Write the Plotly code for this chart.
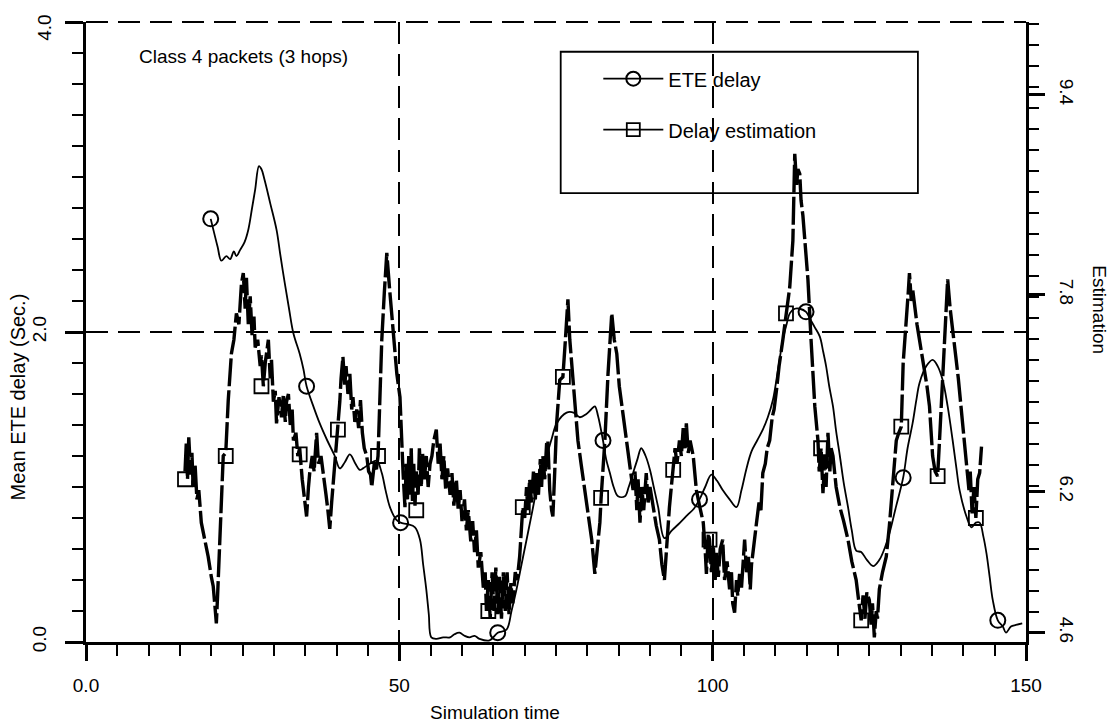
import plotly.graph_objects as go

# ---------------- data ----------------
ete_x = [19.9, 21.0, 21.6, 22.4, 23.0, 23.6, 24.0, 24.6, 25.3, 25.9, 26.5, 27.0, 27.6, 28.0, 28.5,
         29.4, 30.4, 31.0, 31.7, 32.4, 33.1, 34.1, 34.7, 35.2, 36.2, 37.3, 38.5, 39.7, 40.5, 41.3,
         42.1, 43.0, 43.7, 44.2, 45.3, 46.4, 47.2, 47.8, 48.5, 49.5, 50.2, 51.3, 52.5, 53.3, 53.8,
         54.3, 54.7, 55.1, 55.9, 57.0, 58.1, 58.8, 59.6, 60.4, 61.2, 62.0, 62.8, 64.4, 65.7, 67.1,
         67.9, 68.7, 69.5, 70.3, 71.1, 71.9, 72.7, 73.5, 74.3, 75.1, 76.7, 77.8, 78.8, 79.8, 80.6,
         81.2, 81.7, 82.5, 83.0, 83.6, 84.2, 84.9, 86.0, 86.6, 87.3, 88.0, 88.6, 89.3, 90.0, 90.6,
         91.3, 92.3, 93.5, 94.8, 96.0, 97.0, 97.9, 98.8, 99.8, 100.7, 101.6, 102.7, 103.8, 104.6, 105.4,
         106.2, 107.1, 108.0, 108.8, 109.6, 110.4, 111.2, 111.8, 112.3, 113.1, 113.9, 114.9, 115.6, 116.3, 117.1,
         117.6, 118.1, 118.6, 119.2, 119.7, 120.3, 120.9, 121.6, 122.2, 122.9, 123.7, 124.6, 125.6, 126.6, 127.4,
         128.2, 129.3, 130.4, 131.1, 131.9, 132.5, 133.0, 134.1, 135.1, 135.9, 136.7, 137.5, 138.3, 138.9, 139.4,
         140.5, 141.3, 142.0, 142.6, 143.2, 143.7, 144.2, 144.7, 145.5, 146.3, 146.8, 147.6, 148.4, 149.4]
ete_y = [2.73, 2.55, 2.46, 2.49, 2.47, 2.52, 2.49, 2.53, 2.58, 2.66, 2.80, 2.92, 3.07, 3.05, 2.98,
         2.83, 2.66, 2.50, 2.32, 2.15, 1.99, 1.86, 1.76, 1.65, 1.53, 1.41, 1.30, 1.20, 1.12, 1.16,
         1.21, 1.15, 1.11, 1.12, 1.15, 1.17, 1.09, 0.98, 0.87, 0.79, 0.77, 0.76, 0.74, 0.66, 0.50,
         0.34, 0.18, 0.03, 0.02, 0.03, 0.03, 0.05, 0.06, 0.04, 0.03, 0.04, 0.02, 0.01, 0.06, 0.08,
         0.20, 0.34, 0.50, 0.66, 0.82, 0.98, 1.10, 1.20, 1.31, 1.41, 1.48, 1.48, 1.45, 1.47, 1.50,
         1.52, 1.46, 1.30, 1.18, 1.09, 1.00, 0.94, 0.94, 1.00, 1.09, 1.18, 1.25, 1.20, 1.11, 1.00,
         0.87, 0.67, 0.72, 0.77, 0.82, 0.86, 0.92, 1.00, 1.08, 1.04, 0.98, 0.92, 0.87, 0.98, 1.12,
         1.23, 1.30, 1.37, 1.45, 1.56, 1.75, 1.95, 2.05, 2.12, 2.15, 2.15, 2.13, 2.08, 2.03, 1.97,
         1.88, 1.78, 1.65, 1.52, 1.36, 1.20, 1.03, 0.87, 0.72, 0.59, 0.58, 0.53, 0.49, 0.53, 0.60,
         0.70, 0.88, 1.06, 1.25, 1.41, 1.56, 1.67, 1.78, 1.82, 1.78, 1.69, 1.52, 1.30, 1.12, 0.98,
         0.81, 0.74, 0.77, 0.77, 0.68, 0.57, 0.42, 0.27, 0.14, 0.10, 0.06, 0.10, 0.11, 0.12]
ete_mark_x = [19.9, 35.2, 50.2, 65.7, 82.5, 97.9, 114.9, 130.4, 145.5]
ete_mark_y = [2.73, 1.65, 0.77, 0.06, 1.30, 0.92, 2.13, 1.06, 0.14]

est_x = [15.8, 16.0, 16.2, 16.4, 16.7, 16.9, 17.1, 17.4, 17.7, 18.0, 18.4, 19.0, 19.5, 20.0, 20.3,
         20.6, 20.8, 21.0, 21.4, 21.9, 22.3, 22.7, 23.2, 23.6, 24.0, 24.4, 24.8, 25.1, 25.4, 25.6,
         25.9, 26.2, 26.5, 26.8, 27.0, 27.4, 27.8, 28.0, 28.3, 28.6, 29.1, 29.4, 29.6, 29.9, 30.2,
         30.4, 30.8, 31.2, 31.5, 31.8, 32.0, 32.3, 32.6, 32.9, 33.1, 33.5, 33.8, 34.1, 34.5, 34.8,
         35.2, 35.5, 35.7, 36.1, 36.4, 36.8, 37.1, 37.5, 37.9, 38.3, 38.6, 38.9, 39.2, 39.5, 39.8,
         40.2, 40.5, 40.7, 41.0, 41.3, 41.5, 41.8, 42.1, 42.4, 42.6, 42.9, 43.2, 43.5, 43.8, 44.1,
         44.4, 44.8, 45.1, 45.4, 45.6, 46.0, 46.3, 46.6, 46.9, 47.2, 47.6, 48.0, 48.4, 48.8, 49.2,
         49.6, 50.1, 50.4, 50.6, 50.9, 51.1, 51.3, 51.5, 51.7, 51.9, 52.1, 52.3, 52.5, 52.7, 53.0,
         53.2, 53.5, 53.7, 54.0, 54.3, 54.6, 54.9, 55.2, 55.5, 55.9, 56.2, 56.5, 56.8, 57.1, 57.4,
         57.7, 58.1, 58.4, 58.7, 59.1, 59.4, 59.7, 60.0, 60.4, 60.7, 61.0, 61.4, 61.7, 62.0, 62.3,
         62.6, 63.0, 63.4, 63.7, 63.9, 64.2, 64.5, 64.8, 65.1, 65.4, 65.7, 66.0, 66.3, 66.6, 66.9,
         67.2, 67.5, 67.8, 68.1, 68.5, 68.8, 69.2, 69.5, 69.7, 70.0, 70.3, 70.5, 70.8, 71.1, 71.4,
         71.7, 71.9, 72.2, 72.5, 72.7, 72.9, 73.2, 73.5, 73.7, 74.0, 74.3, 74.5, 74.8, 75.1, 75.6,
         76.1, 76.5, 76.9, 77.2, 77.5, 77.8, 78.1, 78.5, 79.0, 79.6, 80.2, 80.7, 81.2, 81.6, 82.0,
         82.2, 82.8, 83.3, 83.9, 84.3, 84.7, 85.1, 85.4, 85.8, 86.2, 86.7, 87.3, 87.6, 87.9, 88.1,
         88.4, 88.7, 89.0, 89.4, 89.7, 90.0, 90.5, 91.0, 91.5, 91.9, 92.3, 92.7, 93.1, 93.4, 93.7,
         94.0, 94.3, 94.7, 95.0, 95.3, 95.6, 95.8, 96.1, 96.4, 96.9, 97.4, 97.9, 98.5, 98.8, 99.0,
         99.3, 99.5, 99.8, 100.1, 100.4, 100.6, 100.9, 101.2, 101.6, 101.9, 102.3, 102.7, 103.0, 103.2, 103.5,
         103.8, 104.0, 104.3, 104.6, 104.9, 105.1, 105.4, 105.7, 106.0, 106.2, 106.5, 106.8, 107.0, 107.4, 107.7,
         108.0, 108.4, 108.7, 109.1, 109.5, 109.8, 110.2, 110.6, 111.2, 111.7, 112.3, 112.8, 113.1, 113.4, 113.6,
         113.9, 114.1, 114.4, 114.7, 115.2, 115.7, 116.3, 116.8, 117.0, 117.3, 117.6, 117.9, 118.1, 118.4, 118.7,
         118.9, 119.2, 119.7, 120.3, 120.9, 121.6, 122.2, 122.9, 123.2, 123.5, 123.7, 124.0, 124.3, 124.6, 125.0,
         125.3, 125.5, 125.8, 126.1, 126.3, 126.6, 127.1, 127.7, 128.2, 128.7, 129.0, 129.3, 129.7, 130.1, 130.4,
         130.7, 130.9, 131.2, 131.4, 131.7, 131.9, 132.2, 132.6, 133.0, 133.4, 133.8, 134.2, 134.6, 135.1, 135.5,
         135.9, 136.2, 136.7, 137.0, 137.3, 137.5, 137.9, 138.3, 138.8, 139.2, 139.6, 140.0, 140.4, 140.9, 141.1,
         141.4, 141.7, 142.0, 142.3, 142.6, 142.9]
est_y = [1.10, 1.28, 1.05, 1.32, 1.08, 1.22, 1.00, 1.15, 0.92, 0.98, 0.77, 0.66, 0.55, 0.42, 0.36,
         0.22, 0.12, 0.30, 0.66, 1.20, 1.22, 1.56, 1.86, 1.95, 2.12, 2.05, 2.31, 2.38, 2.15, 2.35,
         2.05, 2.23, 1.98, 2.10, 1.90, 1.95, 1.78, 1.85, 1.65, 1.80, 1.95, 1.70, 1.82, 1.55, 1.62,
         1.41, 1.58, 1.45, 1.60, 1.42, 1.55, 1.60, 1.40, 1.50, 1.30, 1.35, 1.20, 1.25, 1.05, 0.95,
         0.81, 1.00, 1.09, 1.20, 1.10, 1.35, 1.15, 1.20, 1.05, 0.95, 0.85, 0.73, 0.90, 1.05, 1.20,
         1.37, 1.55, 1.70, 1.84, 1.65, 1.78, 1.60, 1.73, 1.50, 1.58, 1.42, 1.50, 1.38, 1.56, 1.35,
         1.25, 1.20, 1.10, 1.08, 1.00, 1.15, 1.10, 1.20, 1.55, 1.95, 2.25, 2.51, 2.30, 2.12, 1.90,
         1.73, 1.58, 1.25, 1.09, 0.87, 1.15, 0.92, 1.20, 0.95, 1.25, 0.90, 1.15, 0.88, 1.10, 0.95,
         1.25, 1.00, 1.22, 1.05, 1.20, 1.00, 1.15, 1.20, 1.30, 1.37, 1.15, 1.28, 1.05, 1.20, 0.98,
         1.12, 0.95, 1.09, 0.88, 1.05, 0.85, 0.98, 0.78, 0.92, 0.72, 0.85, 0.65, 0.78, 0.58, 0.72,
         0.48, 0.58, 0.35, 0.45, 0.20, 0.40, 0.15, 0.45, 0.20, 0.48, 0.18, 0.42, 0.15, 0.45, 0.20,
         0.45, 0.18, 0.38, 0.25, 0.45, 0.40, 0.55, 0.78, 0.87, 0.80, 1.00, 0.85, 1.05, 0.90, 1.10,
         0.92, 1.09, 0.95, 1.18, 1.00, 1.20, 1.05, 1.28, 1.30, 0.98, 0.85, 0.81, 1.10, 1.41, 1.69,
         1.71, 1.95, 2.21, 1.95, 1.80, 1.60, 1.45, 1.30, 1.15, 0.98, 0.80, 0.66, 0.44, 0.60, 0.77,
         0.93, 1.30, 1.73, 2.12, 1.95, 1.86, 1.65, 1.56, 1.40, 1.30, 1.15, 0.98, 1.10, 0.85, 1.05,
         0.77, 1.00, 0.85, 1.09, 0.90, 1.00, 0.87, 0.75, 0.66, 0.50, 0.40, 0.65, 0.87, 1.00, 1.11,
         1.25, 1.15, 1.30, 1.20, 1.38, 1.25, 1.41, 1.22, 1.30, 1.20, 0.98, 0.88, 0.77, 0.60, 0.44,
         0.70, 0.66, 0.45, 0.62, 0.40, 0.58, 0.42, 0.60, 0.66, 0.40, 0.52, 0.34, 0.45, 0.25, 0.19,
         0.40, 0.30, 0.44, 0.35, 0.60, 0.66, 0.45, 0.55, 0.34, 0.50, 0.60, 0.72, 0.77, 0.90, 0.85,
         1.09, 1.15, 1.25, 1.30, 1.45, 1.50, 1.63, 1.78, 1.95, 2.12, 2.29, 2.59, 3.15, 2.95, 3.05,
         3.02, 2.85, 2.75, 2.59, 2.34, 1.95, 1.52, 1.30, 1.10, 1.25, 0.96, 1.20, 1.00, 1.35, 1.10,
         1.25, 1.20, 1.00, 0.87, 0.78, 0.66, 0.52, 0.40, 0.30, 0.20, 0.14, 0.30, 0.15, 0.32, 0.27,
         0.10, 0.25, 0.03, 0.20, 0.15, 0.34, 0.45, 0.55, 0.75, 0.98, 1.15, 1.30, 1.35, 1.39, 1.80,
         1.95, 2.10, 2.25, 2.38, 2.20, 2.28, 2.16, 2.05, 1.95, 1.85, 1.78, 1.65, 1.52, 1.20, 1.10,
         1.07, 1.30, 1.73, 1.95, 2.16, 2.34, 2.15, 2.03, 1.84, 1.70, 1.52, 1.35, 1.20, 0.98, 1.10,
         0.83, 1.00, 0.80, 1.05, 1.09, 1.26]
est_mark_x = [15.8, 22.3, 28.0, 34.1, 40.2, 46.6, 52.7, 64.2, 69.7, 76.1, 82.2, 93.7, 99.5,
              111.7, 117.3, 123.7, 130.1, 135.9, 142.0]
est_mark_y = [1.05, 1.20, 1.65, 1.21, 1.37, 1.20, 0.85, 0.20, 0.87, 1.71, 0.93, 1.11, 0.66,
              2.12, 1.25, 0.14, 1.39, 1.07, 0.80]

x_tick_vals = [0, 50, 100, 150]
x_tick_text = ["0.0", "50", "100", "150"]
y_tick_vals = [0, 2, 4]
y_tick_text = ["0.0", "2.0", "4.0"]
right_tick_pos = [0.06, 0.97, 2.24, 3.53]
right_tick_text = ["4.6", "6.2", "7.8", "9.4"]

series_names = ["ETE delay", "Delay estimation"]
chart_note = "Class 4 packets (3 hops)"

# ---------------- figure ----------------
FONT = "Liberation Sans, Arial, Helvetica, sans-serif"
BLACK = "#000000"
DASH = "22px,10px"

fig = go.Figure()

fig.add_trace(go.Scatter(x=est_x, y=est_y, mode="lines", showlegend=False,
                         line=dict(color=BLACK, width=3.4, dash="28px,4px")))
fig.add_trace(go.Scatter(x=ete_x, y=ete_y, mode="lines", showlegend=False,
                         line=dict(color=BLACK, width=1.8), line_shape="spline"))
fig.add_trace(go.Scatter(x=ete_mark_x, y=ete_mark_y, mode="markers", showlegend=False,
                         marker=dict(symbol="circle-open", size=15, color=BLACK,
                                     line=dict(width=2, color=BLACK))))
fig.add_trace(go.Scatter(x=est_mark_x, y=est_mark_y, mode="markers", showlegend=False,
                         marker=dict(symbol="square-open", size=14, color=BLACK,
                                     line=dict(width=1.8, color=BLACK))))

# legend entries
fig.add_trace(go.Scatter(x=[None], y=[None], mode="lines+markers", name=series_names[0],
                         legendgroup="a",
                         line=dict(color=BLACK, width=1.8),
                         marker=dict(symbol="circle-open", size=14, color=BLACK,
                                     line=dict(width=2, color=BLACK))))
fig.add_trace(go.Scatter(x=[None], y=[None], mode="lines+markers", name=series_names[1],
                         legendgroup="b",
                         line=dict(color=BLACK, width=1.8),
                         marker=dict(symbol="square-open", size=13, color=BLACK,
                                     line=dict(width=1.8, color=BLACK))))

# left tick labels: the top one is written as an annotation so it is not clipped
left_tick_labels = [t if v < 4 else "" for v, t in zip(y_tick_vals, y_tick_text)]

# the page body adds an 8px offset, so the figure is 8px smaller and margins shifted
fig.update_layout(
    width=1108, height=717,
    margin=dict(l=78, r=90, t=14, b=83, autoexpand=False),
    paper_bgcolor="white", plot_bgcolor="white",
    font=dict(family=FONT, size=19, color=BLACK),
    showlegend=True,
    legend=dict(x=0.545, y=0.94, xanchor="left", yanchor="top",
                bgcolor="rgba(0,0,0,0)", borderwidth=0,
                font=dict(size=20, family=FONT), tracegroupgap=22,
                traceorder="grouped", itemwidth=60),
    xaxis=dict(range=[0, 150], showline=True, linecolor=BLACK, linewidth=2.5,
               tickmode="array", tickvals=x_tick_vals, ticktext=x_tick_text,
               ticks="outside", ticklen=16, tickwidth=2.5, tickcolor=BLACK,
               ticklabelstandoff=8,
               minor=dict(dtick=5, ticks="outside", ticklen=11, tickwidth=2, tickcolor=BLACK,
                          showgrid=False),
               showgrid=True, gridcolor=BLACK, gridwidth=2, griddash=DASH,
               zeroline=False, tickfont=dict(size=19)),
    yaxis=dict(range=[0, 4], showline=True, linecolor=BLACK, linewidth=2.5,
               tickmode="array", tickvals=y_tick_vals, ticktext=left_tick_labels,
               ticks="outside", ticklen=18, tickwidth=2.5, tickcolor=BLACK,
               tickangle=-90, ticklabelstandoff=12,
               minor=dict(dtick=0.2, ticks="outside", ticklen=11, tickwidth=2, tickcolor=BLACK,
                          showgrid=False),
               showgrid=True, gridcolor=BLACK, gridwidth=2, griddash=DASH,
               zeroline=False, tickfont=dict(size=19)),
    yaxis2=dict(range=[0, 4], overlaying="y", side="right", showline=True,
                linecolor=BLACK, linewidth=2.5,
                tickmode="array", tickvals=right_tick_pos, ticktext=right_tick_text,
                ticks="outside", ticklen=16, tickwidth=2.5, tickcolor=BLACK,
                tickangle=90, ticklabelstandoff=8,
                minor=dict(tick0=0.06, dtick=0.1355, ticks="outside", ticklen=10, tickwidth=2,
                           tickcolor=BLACK, showgrid=False),
                showgrid=False, zeroline=False, tickfont=dict(size=19)),
    shapes=[
        dict(type="rect", xref="paper", yref="paper", x0=0.505, x1=0.885,
             y0=0.724, y1=0.952, line=dict(color=BLACK, width=1.8)),
        dict(type="line", xref="paper", yref="paper", x0=0, x1=1, y0=1, y1=1,
             line=dict(color=BLACK, width=2, dash=DASH)),
    ],
    annotations=[
        dict(text=y_tick_text[2], xref="paper", yref="paper", x=-0.044, y=0.99,
             textangle=-90, showarrow=False, xanchor="center", yanchor="middle",
             font=dict(size=19)),
        dict(text=chart_note, xref="paper", yref="paper", x=0.054, y=0.944,
             xanchor="left", yanchor="middle", showarrow=False, font=dict(size=19)),
        dict(text="Mean ETE delay (Sec.)", xref="paper", yref="paper", x=-0.072, y=0.395,
             textangle=-90, showarrow=False, xanchor="center", yanchor="middle",
             font=dict(size=20)),
        dict(text="Estimation", xref="paper", yref="paper", x=1.0787, y=0.535,
             textangle=90, showarrow=False, xanchor="center", yanchor="middle",
             font=dict(size=19)),
        dict(text="Simulation time", xref="paper", yref="paper", x=0.435, y=-0.113,
             showarrow=False, xanchor="center", yanchor="middle", font=dict(size=19)),
    ],
)

# make the right axis exist with a (hidden) trace tied to it
fig.add_trace(go.Scatter(x=[None], y=[None], yaxis="y2", showlegend=False, hoverinfo="skip"))

fig.write_html("out.html")
